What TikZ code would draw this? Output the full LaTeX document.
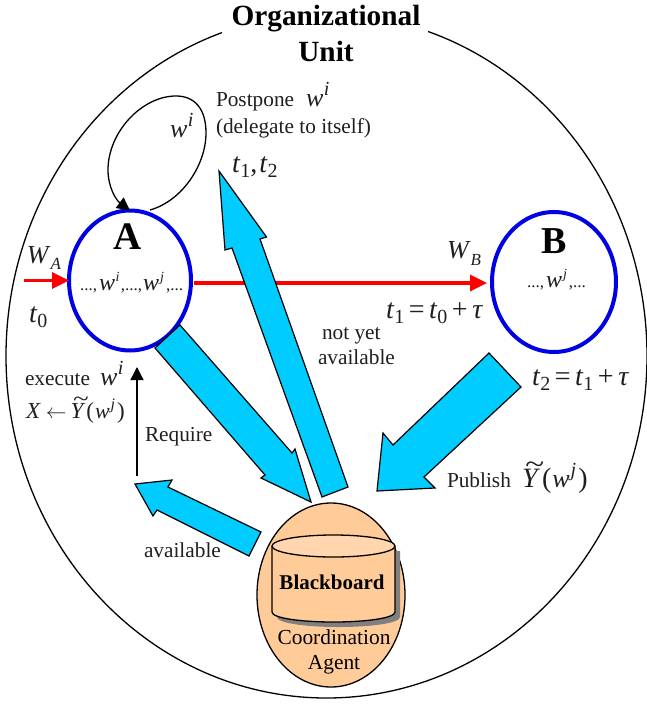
\documentclass[tikz,border=0pt]{standalone}
\usepackage{fontspec}
\setmainfont{Liberation Serif}
\usetikzlibrary{arrows.meta,shapes.geometric}
\newcommand\sz[1]{\fontsize{#1}{#1}\selectfont}
\newcommand\ww[3]{{\sz{#1}\textit{w}\kern.5pt\raisebox{#2pt}{\sz{#3}\textit{i}}}}
\newcommand\wj[3]{{\sz{#1}\textit{w}\kern1pt\raisebox{#2pt}{\sz{#3}\textit{j}}}}
\newcommand\tsub[3]{{\sz{#1}\textit{t}\raisebox{-5pt}{\sz{#3}#2}}}
\newcommand\Ytil[1]{{\sz{#1}\makebox[0pt][l]{\kern.1em\smash{\raisebox{.5em}{\scalebox{1.25}[1]{\textit{\char"7E}}}}}\textit{Y}}}
\definecolor{arrowcyan}{HTML}{00CCFF}
\definecolor{orangefill}{HTML}{FFCC99}
\definecolor{orangetop}{HTML}{FFD6AD}
\tikzset{
  txt/.style={anchor=base west,inner sep=0pt,outer sep=0pt,font=\sz{21.3},text=black!88},
  blk/.style={draw=black,line width=1.2pt,fill=arrowcyan,line join=miter},
  agentnode/.style={draw=blue!90!black,line width=4pt,ellipse,inner sep=0pt,outer sep=0pt},
  redline/.style={draw=red,line width=3.4pt},
  thinline/.style={draw=black,line width=1.3pt},
}
\begin{document}
\begin{tikzpicture}[x=1pt,y=-1pt]
\useasboundingbox (0,0) rectangle (647,704);
% organizational unit
\node[ellipse,draw=black,line width=1.3pt,minimum width=641pt,minimum height=684pt,inner sep=0pt] (OU) at (326.5,356) {};
\node[fill=white,inner sep=0pt,minimum width=206pt,minimum height=68pt] (title) at (325,34) {};
\node[inner sep=0pt,font=\sz{29.3}\bfseries,anchor=base] (titleA) at (326,25) {Organizational};
\node[inner sep=0pt,font=\sz{29.3}\bfseries,anchor=base] (titleB) at (326,61) {Unit};
% agents
\node[agentnode,minimum width=122pt,minimum height=140pt] (A) at (130,280.5) {};
\node[agentnode,minimum width=124pt,minimum height=140pt] (B) at (554,282) {};
% red flows
\coordinate (wa) at (24,280.5);
\coordinate (redstart) at (194,283);
\coordinate (redend) at (487,283);
\draw[redline,-{Triangle[length=17pt,width=16pt]}] (wa) -- (A.west);
\draw[redline,-{Triangle[length=17pt,width=16pt]}] (redstart) -- (redend);
% self loop
\coordinate (loopstart) at (150,210);
\draw[thinline,-{Triangle[length=13pt,width=13pt]}] (loopstart)
  .. controls (182,201) and (206,165) .. (206,133)
  .. controls (206,108) and (194,96) .. (176,96)
  .. controls (142,96) and (108,132) .. (108,170)
  .. controls (108,187) and (116,200) .. (A.north);
% require
\coordinate (reqstart) at (137,476);
\coordinate (reqend) at (137,367);
\draw[thinline,-{Triangle[length=13pt,width=13pt]}] (reqstart) -- (reqend);
% block arrows
\draw[blk] (155,348) -- (180,325) -- (292,453) -- (295,449) -- (311,502) -- (261,478) -- (265,475) -- cycle;
\draw[blk] (322,497) -- (348,487) -- (260,239) -- (266.5,237) -- (219,171) -- (225,250) -- (232,248) -- cycle;
\draw[blk] (489,353) -- (521,387) -- (424,477) -- (435,488) -- (377,491) -- (383,433) -- (393,445) -- cycle;
\draw[blk] (261,532) -- (249,556) -- (157,510) -- (153,516) -- (135,484) -- (172,480) -- (168,487) -- cycle;
% coordination agent
\node[ellipse,draw=black,line width=1.3pt,fill=orangefill,minimum width=148pt,minimum height=184pt,inner sep=0pt] (CA) at (331,595) {};
\fill[black!50] (277,551) -- (400,551) -- (400,617) .. controls (400,623) and (372,627) .. (338.5,627) .. controls (305,627) and (277,623) .. (277,617) -- cycle;
\draw[line width=1.3pt,fill=orangefill] (272,546) -- (272,612) .. controls (272,618) and (300,622) .. (333.5,622) .. controls (367,622) and (395,618) .. (395,612) -- (395,546);
\draw[line width=1.3pt,fill=orangetop] (333.5,546) ellipse[x radius=61.5,y radius=11];
\node[inner sep=0pt,anchor=base,font=\sz{21}\bfseries] (bb) at (332,589) {Blackboard};
\node[inner sep=0pt,anchor=base,font=\sz{21.4}] (co) at (334,644) {Coordination};
\node[inner sep=0pt,anchor=base,font=\sz{21.4}] (ag) at (334,669) {Agent};
% letters
\node[inner sep=0pt,anchor=base,font=\sz{39}\bfseries] (Alab) at (128,249) {A};
\node[inner sep=0pt,anchor=base,font=\sz{38}\bfseries] (Blab) at (554,253) {B};
% labels
\node[txt] (post) at (216,106) {Postpone};
\node[txt] (postw) at (306,106) {\ww{26}{11}{20}};
\node[txt] (dele) at (216,133) {(delegate to itself)};
\node[txt] (t12) at (232,172) {\tsub{28}{1}{20}{\sz{28},}\kern2pt\tsub{28}{2}{20}};
\node[txt] (loopw) at (170,137) {\ww{26}{11}{20}};
\node[txt] (wA) at (27,263) {{\sz{26}\textit{W}}\raisebox{-6pt}{\sz{17}\textit{A}}};
\node[txt] (t0) at (29,322) {\tsub{28}{0}{20}};
\node[txt] (dotsA) at (80,290) {{\sz{17}...,}\kern2pt\ww{24}{9}{14}\kern1.5pt{\sz{17},...,}\kern1pt\wj{24}{9}{14}\kern2pt{\sz{17},...}};
\node[txt] (wB) at (447,258) {{\sz{26}\textit{W}}\raisebox{-7pt}{\sz{17}\textit{B}}};
\node[txt] (t1eq) at (386,318) {\tsub{28}{1}{20}\kern4.5pt{\sz{28}=}\kern4.5pt\tsub{28}{0}{20}\kern4.5pt{\sz{28}+}\kern4.5pt{\sz{28}\textit{τ}}};
\node[txt] (notyet) at (322,339) {not yet};
\node[txt] (avail1) at (318,364) {available};
\node[txt] (dotsB) at (527,287) {{\sz{17}...,}\kern2pt\wj{24}{9}{14}\kern2pt{\sz{17},...}};
\node[txt] (t2eq) at (532,385) {\tsub{28}{2}{20}\kern4.5pt{\sz{28}=}\kern4.5pt\tsub{28}{1}{20}\kern4.5pt{\sz{28}+}\kern4.5pt{\sz{28}\textit{τ}}};
\node[txt] (pub) at (447,487) {Publish};
\node[txt] (pubY) at (522,487) {\Ytil{28}\kern2pt{\sz{28}(}\kern1pt\wj{26}{11}{20}\kern2pt{\sz{28})}};
\node[txt] (exec) at (25,385) {execute};
\node[txt] (execw) at (100,385) {\ww{26}{11}{20}};
\node[txt] (assign) at (26,418) {{\sz{23}\textit{X}}\kern5pt{\sz{21}$\leftarrow$}\kern4pt\Ytil{23}\kern1pt{\sz{23}(}\kern1pt\wj{22}{9}{16}\kern2pt{\sz{23})}};
\node[txt] (req) at (145,441) {Require};
\node[txt] (avail2) at (144,557) {available};
\end{tikzpicture}
\end{document}
